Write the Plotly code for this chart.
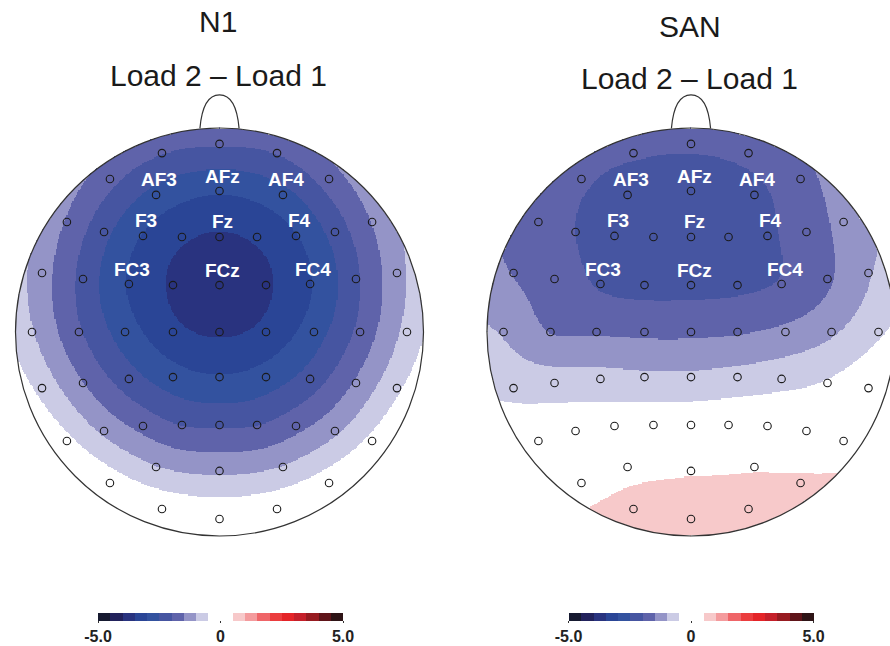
import numpy as np
import plotly.graph_objects as go

# ---------------- data ----------------
electrodes = ["Fpz", "Fp1", "Fp2", "AF7", "AF3", "AFz", "AF4", "AF8",
              "F7", "F5", "F3", "F1", "Fz", "F2", "F4", "F6", "F8",
              "FT7", "FC5", "FC3", "FC1", "FCz", "FC2", "FC4", "FC6", "FT8",
              "T7", "C5", "C3", "C1", "Cz", "C2", "C4", "C6", "T8",
              "TP7", "CP5", "CP3", "CP1", "CPz", "CP2", "CP4", "CP6", "TP8",
              "P7", "P5", "P3", "P1", "Pz", "P2", "P4", "P6", "P8",
              "PO7", "PO3", "POz", "PO4", "PO8", "O1", "Oz", "O2"]

# electrode layout in head units (radius 1, nose up)
elec_x = [0.0, -0.282, 0.282, -0.537, -0.311, 0.0, 0.311, 0.537,
          -0.748, -0.566, -0.375, -0.184, 0.0, 0.184, 0.375, 0.566, 0.748,
          -0.870, -0.669, -0.444, -0.228, 0.0, 0.228, 0.444, 0.669, 0.870,
          -0.919, -0.689, -0.463, -0.228, 0.0, 0.228, 0.463, 0.689, 0.919,
          -0.870, -0.669, -0.444, -0.228, 0.0, 0.228, 0.444, 0.669, 0.870,
          -0.748, -0.566, -0.375, -0.184, 0.0, 0.184, 0.375, 0.566, 0.748,
          -0.537, -0.311, 0.0, 0.311, 0.537, -0.282, 0.0, 0.282]
elec_y = [0.922, 0.877, 0.877, 0.750, 0.672, 0.691, 0.672, 0.750,
          0.539, 0.490, 0.471, 0.466, 0.466, 0.466, 0.471, 0.490, 0.539,
          0.289, 0.260, 0.235, 0.230, 0.230, 0.230, 0.235, 0.260, 0.289,
          0.0, 0.0, 0.0, 0.0, 0.0, 0.0, 0.0, 0.0, 0.0,
          -0.275, -0.250, -0.230, -0.221, -0.221, -0.221, -0.230, -0.250, -0.275,
          -0.534, -0.485, -0.461, -0.456, -0.456, -0.456, -0.461, -0.485, -0.534,
          -0.740, -0.662, -0.681, -0.662, -0.740, -0.868, -0.917, -0.868]

# Load 2 - Load 1 difference amplitudes (µV) at each electrode
n1_values = [-1.95, -1.97, -1.97, -1.83, -2.67, -2.95, -2.67, -1.76,
             -1.55, -2.35, -3.03, -3.41, -3.56, -3.41, -3.03, -2.30, -1.48,
             -1.28, -2.16, -3.05, -3.57, -3.95, -3.57, -3.05, -2.10, -1.18,
             -0.96, -1.93, -2.74, -3.35, -3.57, -3.35, -2.74, -1.86, -0.85,
             -0.66, -1.49, -2.28, -2.78, -2.97, -2.78, -2.28, -1.44, -0.60,
             -0.36, -1.11, -1.66, -2.02, -2.08, -2.02, -1.66, -1.11, -0.36,
             -0.19, -0.98, -1.10, -0.98, -0.19, -0.08, -0.02, -0.08]
san_values = [-1.90, -1.92, -1.85, -1.90, -2.30, -2.35, -2.15, -1.65,
              -1.75, -2.00, -2.30, -2.42, -2.44, -2.35, -2.10, -1.72, -1.38,
              -1.52, -1.72, -2.05, -2.15, -2.15, -2.10, -1.96, -1.58, -1.05,
              -1.05, -1.52, -1.56, -1.60, -1.60, -1.55, -1.38, -1.08, -0.58,
              -0.65, -0.75, -0.82, -0.90, -0.90, -0.82, -0.68, -0.46, -0.12,
              -0.15, -0.20, -0.20, -0.17, -0.14, -0.10, -0.06, 0.00, 0.18,
              0.25, 0.30, 0.45, 0.45, 0.60, 0.70, 0.75, 0.75]

labelled = ["AF3", "AFz", "AF4", "F3", "Fz", "F4", "FC3", "FCz", "FC4"]
panel_titles = ["N1", "SAN"]
panel_subtitle = "Load 2 \u2013 Load 1"
cbar_tickvals = [-5, 0, 5]
cbar_ticktext = ["-5.0", "0", "5.0"]

# ---------------- style ----------------
blues = ["#161a30", "#22225c", "#29337f", "#2a4596", "#33529f",
         "#4655a1", "#5f63aa", "#9494c7", "#cbcbe5"]
reds = ["#f7c9ca", "#f49b9d", "#ef6568", "#eb3d3e", "#e42428",
        "#c5202a", "#971b21", "#5f1419", "#2e1416"]
bins = blues + ["#ffffff", "#ffffff"] + reds
colorscale = []
for i, c in enumerate(bins):
    colorscale.append([i / len(bins), c])
    colorscale.append([(i + 1) / len(bins), c])

FONT = "Liberation Sans, Arial, sans-serif"
W, H = 890, 646
R_PX = 204.0
centers_px = [(219.5, 332.0), (691.0, 332.0)]


def tps_field(xe, ye, ve, gx, gy):
    """thin-plate spline interpolation of the electrode values over the scalp"""
    xe = np.asarray(xe); ye = np.asarray(ye); ve = np.asarray(ve)
    n = len(xe)
    d = np.hypot(xe[:, None] - xe[None, :], ye[:, None] - ye[None, :])
    K = np.where(d > 0, d ** 2 * np.log(np.maximum(d, 1e-12)), 0.0)
    A = np.zeros((n + 3, n + 3))
    A[:n, :n] = K
    A[:n, n] = 1; A[:n, n + 1] = xe; A[:n, n + 2] = ye
    A[n, :n] = 1; A[n + 1, :n] = xe; A[n + 2, :n] = ye
    sol = np.linalg.solve(A, np.concatenate([ve, np.zeros(3)]))
    w, a = sol[:n], sol[n:]
    X, Y = np.meshgrid(gx, gy)
    r = np.hypot(X[..., None] - xe, Y[..., None] - ye)
    U = np.where(r > 0, r ** 2 * np.log(np.maximum(r, 1e-12)), 0.0)
    Z = U @ w + a[0] + a[1] * X + a[2] * Y
    Z[X ** 2 + Y ** 2 > 1.0] = np.nan
    return np.round(Z, 3)


grid = np.linspace(-1, 1, 341)
fig = go.Figure()

for k, vals in enumerate([n1_values, san_values]):
    xa = "x" if k == 0 else "x2"
    ya = "y" if k == 0 else "y2"
    ca = "coloraxis" if k == 0 else "coloraxis2"
    Z = tps_field(elec_x, elec_y, vals, grid, grid)
    fig.add_trace(go.Heatmap(x=grid, y=grid, z=Z, coloraxis=ca, xaxis=xa, yaxis=ya,
                             hoverinfo="skip", zsmooth=False))
    fig.add_trace(go.Scatter(x=elec_x, y=elec_y, mode="markers", xaxis=xa, yaxis=ya,
                             text=electrodes, hoverinfo="text", showlegend=False,
                             marker=dict(symbol="circle-open", size=7.5, color="#1a1a1a",
                                         line=dict(width=1.1, color="#1a1a1a"))))
    for name in labelled:
        i = electrodes.index(name)
        fig.add_annotation(x=elec_x[i], y=elec_y[i], xref=xa, yref=ya, text=name,
                           showarrow=False, xshift=3, yshift=15,
                           font=dict(family=FONT, size=19, color="white", weight="bold"))
    # head outline and nose
    fig.add_shape(type="circle", xref=xa, yref=ya, x0=-1, y0=-1, x1=1, y1=1,
                  line=dict(color="#333333", width=1.2), layer="above")
    fig.add_shape(type="path", xref=xa, yref=ya, layer="above",
                  path="M -0.096,0.998 C -0.088,1.09 -0.062,1.162 0,1.162 "
                       "C 0.062,1.162 0.088,1.09 0.096,0.998",
                  line=dict(color="#333333", width=1.2))
    # titles
    ty = [22, 26][k]
    fig.add_annotation(x=-0.007, y=1 - ty / H, xref=xa, yref="paper", text=panel_titles[k],
                       showarrow=False, yanchor="middle", xanchor="center",
                       font=dict(family=FONT, size=30, color="#1a1a1a"))
    fig.add_annotation(x=-0.007, y=1 - (ty + 53) / H, xref=xa, yref="paper", text=panel_subtitle,
                       showarrow=False, yanchor="middle", xanchor="center",
                       font=dict(family=FONT, size=30, color="#1a1a1a"))

# axes so that one head unit = 204 px in both directions
split = 445.0
cx1, cy = centers_px[0]
cx2, _ = centers_px[1]
ax_common = dict(visible=False, showgrid=False, zeroline=False, fixedrange=True)
y_range = [-(H - cy) / R_PX, cy / R_PX]

def cbar(cx):
    return dict(orientation="h", x=cx / W, xanchor="center", xref="paper",
                y=1 - 613 / H, yanchor="top", yref="paper",
                len=245, lenmode="pixels", thickness=8, thicknessmode="pixels",
                xpad=0, ypad=0, outlinewidth=0,
                tickvals=cbar_tickvals, ticktext=cbar_ticktext,
                ticks="outside", ticklen=2, tickwidth=1, tickcolor="#333333",
                tickfont=dict(family=FONT, size=16, color="#222222", weight="bold"))

fig.update_layout(
    width=W, height=H, margin=dict(l=0, r=0, t=0, b=0),
    paper_bgcolor="white", plot_bgcolor="white", showlegend=False,
    xaxis=dict(domain=[0, split / W], range=[-cx1 / R_PX, (split - cx1) / R_PX], **ax_common),
    yaxis=dict(domain=[0, 1], range=y_range, anchor="x", **ax_common),
    xaxis2=dict(domain=[split / W, 1], range=[-(cx2 - split) / R_PX, (W - cx2) / R_PX],
                anchor="y2", **ax_common),
    yaxis2=dict(domain=[0, 1], range=y_range, anchor="x2", **ax_common),
    coloraxis=dict(colorscale=colorscale, cmin=-5, cmax=5, colorbar=cbar(220.5)),
    coloraxis2=dict(colorscale=colorscale, cmin=-5, cmax=5, colorbar=cbar(691.0)),
)

fig.write_html("out.html", config={"displayModeBar": False},
               post_script="document.body.style.margin='0';document.body.style.overflow='hidden';")
